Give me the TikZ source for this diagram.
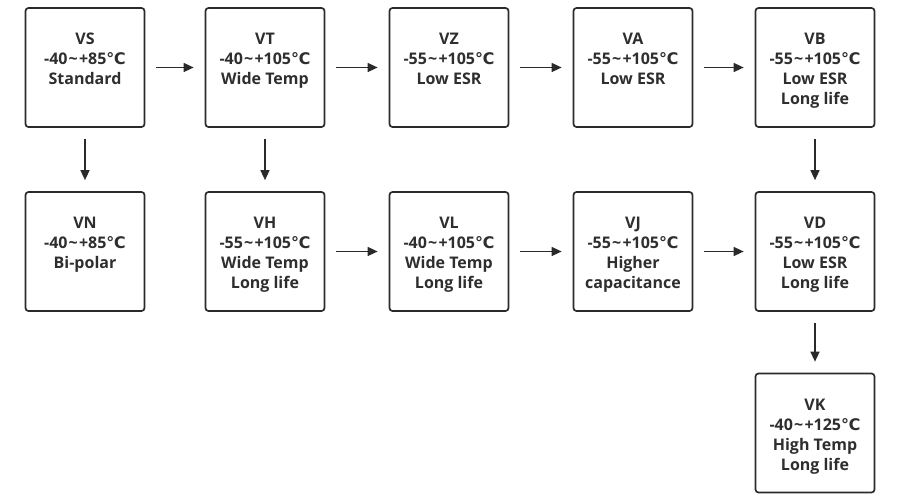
\documentclass[tikz,border=0pt]{standalone}
\usepackage{fontspec}
\setmainfont{Open Sans}
\newfontfamily\dvsans{DejaVu Sans}
\usetikzlibrary{arrows.meta}
\definecolor{ink}{HTML}{2A2A2A}
\definecolor{txt}{HTML}{2E2E2E}
\newcommand{\degc}{{\dvsans\bfseries ℃}}
\newcommand{\tld}{\kern1.2pt\textasciitilde\kern1.2pt}
\newcommand{\fl}{\rule{0pt}{20.5pt}}
\tikzset{
  box/.style={draw=ink, line width=1.7pt, rounded corners=3pt, minimum width=119pt, minimum height=119pt,
    align=center, text=txt, font=\bfseries\fontsize{16}{20}\selectfont, inner sep=0pt},
  arr/.style={draw=ink, line width=1.4pt, -{Triangle[length=10pt,width=9pt]}, shorten <=11pt, shorten >=11pt}
}
\begin{document}
\begin{tikzpicture}[x=1pt,y=-1pt]
\useasboundingbox (0,0) rectangle (900,500);
\node[box] (VS) at (85,67.5) {\fl VS\\-40\tld+85\degc\\Standard\\\strut};
\node[box] (VT) at (265,67.5) {\fl VT\\-40\tld+105\degc\\Wide Temp\\\strut};
\node[box] (VZ) at (449,67.5) {\fl VZ\\-55\tld+105\degc\\Low ESR\\\strut};
\node[box] (VA) at (633,67.5) {\fl VA\\-55\tld+105\degc\\Low ESR\\\strut};
\node[box] (VB) at (815,67.5) {\fl VB\\-55\tld+105\degc\\Low ESR\\Long life\strut};
\node[box] (VN) at (85,251.5) {\fl VN\\-40\tld+85\degc\\Bi-polar\\\strut};
\node[box] (VH) at (265,251.5) {\fl VH\\-55\tld+105\degc\\Wide Temp\\Long life\strut};
\node[box] (VL) at (449,251.5) {\fl VL\\-40\tld+105\degc\\Wide Temp\\Long life\strut};
\node[box] (VJ) at (633,251.5) {\fl VJ\\-55\tld+105\degc\\Higher\\capacitance\strut};
\node[box] (VD) at (815,251.5) {\fl VD\\-55\tld+105\degc\\Low ESR\\Long life\strut};
\node[box] (VK) at (815,433) {\fl VK\\-40\tld+125\degc\\High Temp\\Long life\strut};
\draw[arr] (VS) -- (VT);
\draw[arr] (VT) -- (VZ);
\draw[arr] (VZ) -- (VA);
\draw[arr] (VA) -- (VB);
\draw[arr] (VS) -- (VN);
\draw[arr] (VT) -- (VH);
\draw[arr] (VB) -- (VD);
\draw[arr] (VH) -- (VL);
\draw[arr] (VL) -- (VJ);
\draw[arr] (VJ) -- (VD);
\draw[arr] (VD) -- (VK);
\end{tikzpicture}
\end{document}
